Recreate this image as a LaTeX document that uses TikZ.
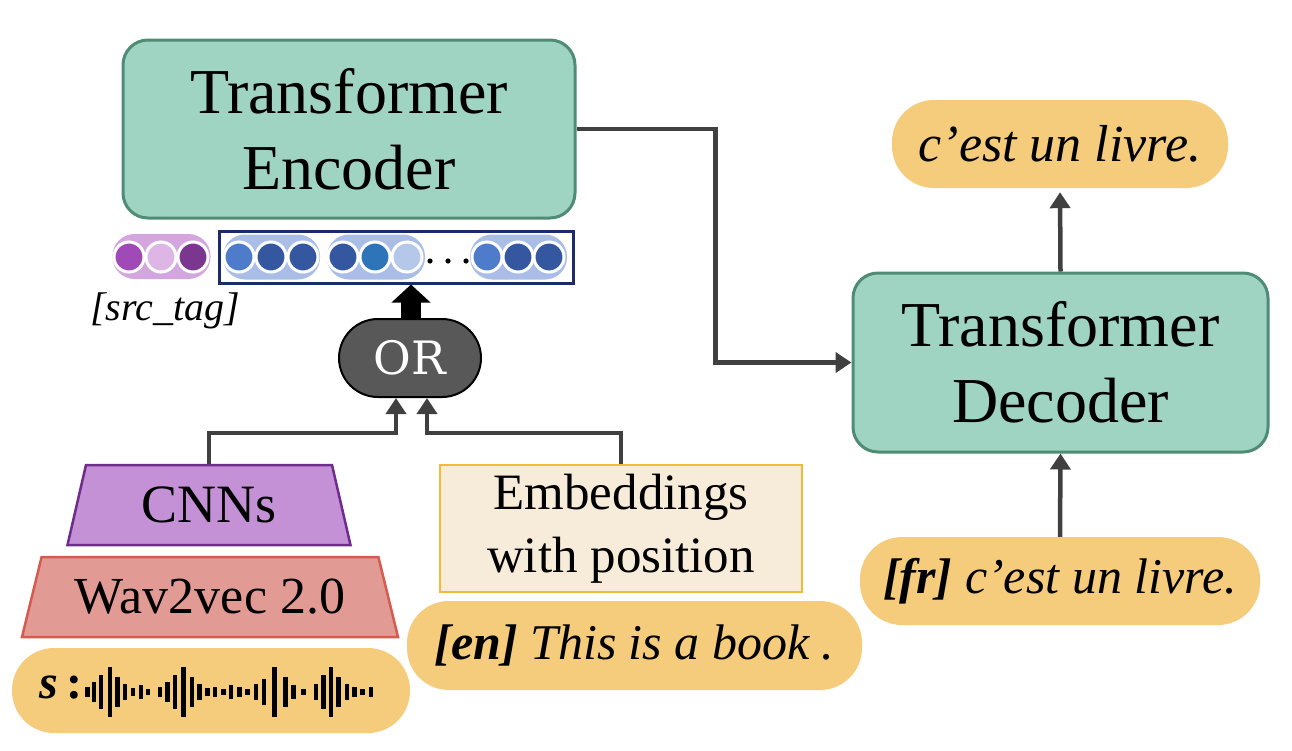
\documentclass[tikz,border=0pt]{standalone}
\usepackage{fontspec}
\setmainfont{Liberation Serif}
\newfontfamily\orfont{DejaVu Serif}
\usetikzlibrary{arrows.meta,shapes.geometric}
\definecolor{tealF}{HTML}{9FD3C2}
\definecolor{tealB}{HTML}{4F8C75}
\definecolor{pillF}{HTML}{F5CB7C}
\definecolor{cnnF}{HTML}{C490D6}
\definecolor{cnnB}{HTML}{6E2C8C}
\definecolor{wavF}{HTML}{E29B94}
\definecolor{wavB}{HTML}{D45B4D}
\definecolor{embF}{HTML}{F7EBDA}
\definecolor{embB}{HTML}{F5BA34}
\definecolor{orF}{HTML}{585858}
\definecolor{connC}{HTML}{404040}
\definecolor{navy}{HTML}{1C2C6B}
\definecolor{srcF}{HTML}{D3A6E0}
\definecolor{pA}{HTML}{A04AB8}
\definecolor{pB}{HTML}{DDB6E6}
\definecolor{pC}{HTML}{7B3790}
\definecolor{bgrp}{HTML}{A9BDE6}
\definecolor{bA}{HTML}{4F7BCB}
\definecolor{bB}{HTML}{3457A0}
\definecolor{bC}{HTML}{2E74B8}
\definecolor{bD}{HTML}{B5C8EA}
\newcommand{\apos}{{\char"0027}}
\begin{document}
\begin{tikzpicture}[x=1pt,y=-1pt,
  tbox/.style={draw=tealB, fill=tealF, line width=3pt, rounded corners=25pt, align=center,
    font=\fontsize{64}{76}\selectfont, inner sep=0pt},
  pill/.style={fill=pillF, rounded corners=42pt, inner sep=0pt,
    font=\fontsize{50}{60}\selectfont\itshape},
  conn/.style={draw=connC, line width=4.5pt},
  arr/.style={-{Triangle[length=16pt,width=20pt]}},
  tok/.style={circle, draw=white, line width=3pt, minimum size=30pt, inner sep=0pt},
  grp/.style={fill=bgrp, rounded corners=22pt, minimum height=45pt, inner sep=0pt},
  trap/.style={trapezium, trapezium stretches body, line width=2.5pt, inner sep=0pt,
    minimum height=80pt, font=\fontsize{52}{60}\selectfont}
]
\useasboundingbox (0,0) rectangle (1292,750);

% main boxes
\node[tbox, minimum width=452pt, minimum height=178pt] (enc) at (349,129) {Transformer\\Encoder};
\node[tbox, minimum width=415pt, minimum height=179pt] (dec) at (1060.5,362.5) {Transformer\\Decoder};

% decoder I/O
\node[pill, minimum width=336pt, minimum height=88pt, font=\fontsize{52}{60}\selectfont\itshape] (out) at (1060,144) {c\apos est un livre.};
\node[pill, minimum width=400pt, minimum height=88pt] (fr) at (1060,581) {\textbf{[fr]} c\apos est un livre.};

% encoder inputs
\node[trap, fill=cnnF, draw=cnnB, trapezium left angle=63, trapezium right angle=63,
  minimum width=283pt, font=\fontsize{54}{60}\selectfont] (cnn) at (209,505) {CNNs};
\node[trap, fill=wavF, draw=wavB, trapezium left angle=61, trapezium right angle=61,
  minimum width=376pt] (wav) at (210,597) {Wav2vec 2.0};
\node[fill=pillF, rounded corners=42pt, minimum width=398pt, minimum height=85pt, inner sep=0pt] (spill) at (211,690.5) {};
\node[font=\fontsize{48}{50}\selectfont, anchor=west] (slab) at (36,688) {\textbf{\textit{s}}\,\textbf{:}};
\foreach \x/\h in {87.3/5, 94/10, 100.7/16.7, 110/25, 117.3/15, 125/8.3, 132.7/4, 140.7/6.7, 147.7/3.3,
  160/5, 167.3/10, 175/16.7, 183.3/25, 191.7/15, 199.3/8.3, 207.3/4, 215/5, 223.3/3.3, 231/6.7,
  239.3/5, 247.3/3.3, 255.7/8.3, 264/13.3, 274.3/25, 285.3/15, 293.3/6.7, 303.3/3.3,
  315.7/8.3, 323.3/16.7, 331/25, 338.3/15, 346.7/8.3, 354.3/5, 362.3/3.3, 370.7/5}
  \fill[black] (\x-2.2,692-\h) rectangle (\x+2.2,692+\h);

\node[fill=embF, draw=embB, line width=2.5pt, minimum width=362pt, minimum height=127pt, inner sep=0pt,
  align=center, font=\fontsize{51}{63}\selectfont] (emb) at (621,528.5) {Embeddings\\with position};
\node[pill, minimum width=455pt, minimum height=89pt] (en) at (634.5,645.5) {\textbf{[en]} This is a book .};

% OR
\node[fill=orF, draw=black, line width=2pt, rounded corners=39pt, minimum width=142pt, minimum height=78pt,
  inner sep=0pt, text=white, font=\fontsize{46}{52}\selectfont\orfont] (or) at (410,358) {OR};

% token row
\node[fill=srcF, rounded corners=22pt, minimum width=98pt, minimum height=45pt, inner sep=0pt] (src) at (161.5,256.5) {};
\node[tok, fill=pA] (s1) at (129,257) {};
\node[tok, fill=pB] (s2) at (161,257) {};
\node[tok, fill=pC] (s3) at (193,257) {};
\node[draw=navy, line width=3pt, minimum width=354pt, minimum height=52pt, inner sep=0pt] (seq) at (396,257) {};
\node[grp, minimum width=97pt] (g1) at (271.5,257) {};
\node[grp, minimum width=98pt] (g2) at (376,257) {};
\node[grp, minimum width=97pt] (g3) at (518.5,257) {};
\node[tok, fill=bA] (t1) at (239,257) {};
\node[tok, fill=bB] (t2) at (271,257) {};
\node[tok, fill=bB] (t3) at (303,257) {};
\node[tok, fill=bB] (t4) at (343,257) {};
\node[tok, fill=bC] (t5) at (375,257) {};
\node[tok, fill=bD] (t6) at (407,257) {};
\node[tok, fill=bA] (t7) at (487,257) {};
\node[tok, fill=bB] (t8) at (518,257) {};
\node[tok, fill=bB] (t9) at (549,257) {};
\foreach \x in {430,448,466} \fill[black] (\x,261) circle (2.6pt);
\node[font=\fontsize{40}{44}\selectfont\itshape] (srclab) at (165,311) {[src\_tag]};

% connectors
\draw[conn, arr] (enc.east) -- ++(139,0) |- (dec.west);
\draw[conn, arr, shorten >=4pt] (dec.north) -- (out.south);
\draw[conn, arr] (fr.north) -- (dec.south);
\coordinate (orin1) at ([xshift=-14pt]or.south);
\coordinate (orin2) at ([xshift=17pt]or.south);
\draw[conn, arr] (cnn.north) |- ([yshift=-35pt]orin1) -- (orin1);
\draw[conn, arr] (emb.north) |- ([yshift=-35pt]orin2) -- (orin2);
\draw[black, line width=20pt, -{Triangle[length=18pt,width=38pt]}] ([xshift=1pt]or.north) -- ([xshift=1pt]or.north |- seq.south);
\end{tikzpicture}
\end{document}
